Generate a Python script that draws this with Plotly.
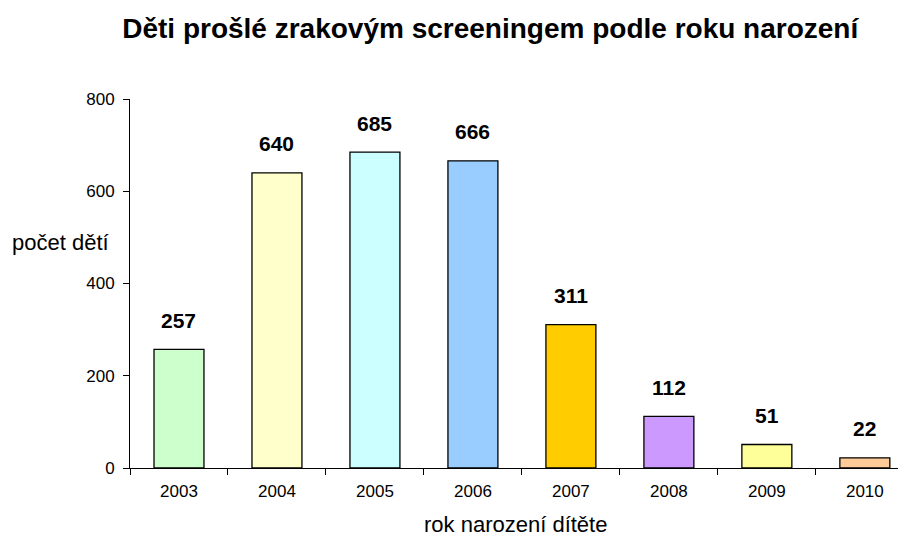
import plotly.graph_objects as go

years = ["2003", "2004", "2005", "2006", "2007", "2008", "2009", "2010"]
counts = [257, 640, 685, 666, 311, 112, 51, 22]
colors = ["#CCFFCC", "#FFFFCC", "#CCFFFF", "#99CCFF", "#FFCC00", "#CC99FF", "#FFFF99", "#FFCC99"]
y_ticks = [0, 200, 400, 600, 800]

FONT = "Liberation Sans, Arial, sans-serif"

fig = go.Figure(go.Bar(
    x=years, y=counts,
    marker=dict(color=colors, line=dict(color="#000000", width=1.3)),
    width=0.51,
))

for i, c in enumerate(counts):
    fig.add_annotation(x=i, y=c, text=f"<b>{c}</b>", showarrow=False,
                       yshift=29, font=dict(family=FONT, size=21, color="#000"))

fig.add_annotation(xref="paper", yref="paper", x=-0.089, y=0.61, xanchor="center",
                   yanchor="middle", text="počet dětí", showarrow=False,
                   font=dict(family=FONT, size=22, color="#000"))
fig.add_annotation(xref="paper", yref="paper", x=0.497, y=-0.154, yanchor="middle",
                   xanchor="center", text="rok narození dítěte", showarrow=False,
                   font=dict(family=FONT, size=22, color="#000"))

fig.update_layout(
    width=898, height=528,
    margin=dict(l=122, r=0, t=91, b=68),
    paper_bgcolor="white", plot_bgcolor="white",
    showlegend=False,
    title=dict(text="<b>Děti prošlé zrakovým screeningem podle roku narození</b>",
               x=0.537, xanchor="center", y=0.962, yanchor="middle",
               font=dict(family=FONT, size=28, color="#000")),
    xaxis=dict(type="category", range=[-0.5, 7.42], showline=True, linecolor="#000",
               linewidth=1, ticks="outside", tickson="boundaries", ticklen=6,
               tickcolor="#000", ticklabelstandoff=8,
               tickfont=dict(family=FONT, size=17, color="#000"), showgrid=False,
               zeroline=False),
    yaxis=dict(range=[0, 800], tickvals=y_ticks, showline=True, linecolor="#000",
               linewidth=1, ticks="outside", ticklen=6, tickcolor="#000",
               ticklabelstandoff=5,
               tickfont=dict(family=FONT, size=17, color="#000"), showgrid=False,
               zeroline=False),
)

fig.write_html("out.html")
